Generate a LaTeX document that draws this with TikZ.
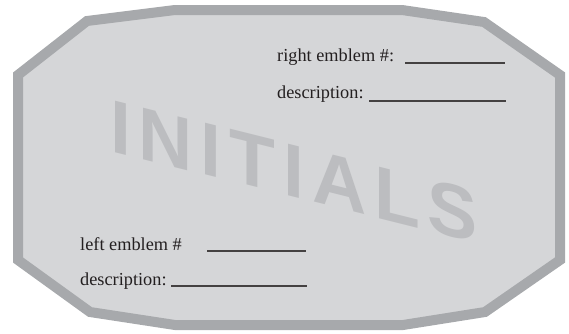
\documentclass[tikz,border=0pt]{standalone}
\usepackage{fontspec}
\setmainfont{Liberation Serif}
\newfontfamily\initfont[LetterSpace=10.5]{Liberation Sans}
\definecolor{tagfill}{HTML}{D5D6D8}
\definecolor{tagedge}{HTML}{A7A9AC}
\definecolor{markgray}{HTML}{BCBDC0}
\definecolor{ink}{HTML}{231F20}

\begin{document}
\begin{tikzpicture}[x=1pt,y=-1pt,
    field/.style={anchor=base west,inner sep=0pt,text=ink,font=\fontsize{18.3}{20}\selectfont},
    fieldline/.style={draw=ink!85,line width=1.3pt}]
        \useasboundingbox (0,0) rectangle (569,333);

        % tag outline
        \draw [draw=tagedge, fill=tagfill, line width=10pt, line join=miter]
            (18,75) -- (87,21) -- (175,10) -- (402,10) -- (484,22) -- (560,75)
            -- (560,260) -- (485,312) -- (403,325) -- (175,325) -- (90,312) -- (18,260) -- cycle;

        % watermark
        \node [anchor=base west, inner sep=0pt, yslant=-0.25, text=markgray,
            font=\initfont\bfseries\fontsize{75}{75}\selectfont] (initials) at (110,151) {INITIALS};

        % right emblem
        \node [field] (rnum) at (277,61) {right emblem \#:};
        \node [field] (rdesc) at (277,98) {description:};
        \draw [fieldline] (405,63) coordinate (rnuma) -- (505,63) coordinate (rnumb);
        \draw [fieldline] (369,101) coordinate (rdesca) -- (506,101) coordinate (rdescb);

        % left emblem
        \node [field] (lnum) at (80,250) {left emblem \#};
        \node [field] (ldesc) at (80,285) {description:};
        \draw [fieldline] (207,251) coordinate (lnuma) -- (306,251) coordinate (lnumb);
        \draw [fieldline] (171,286) coordinate (ldesca) -- (307,286) coordinate (ldescb);
\end{tikzpicture}
\end{document}
